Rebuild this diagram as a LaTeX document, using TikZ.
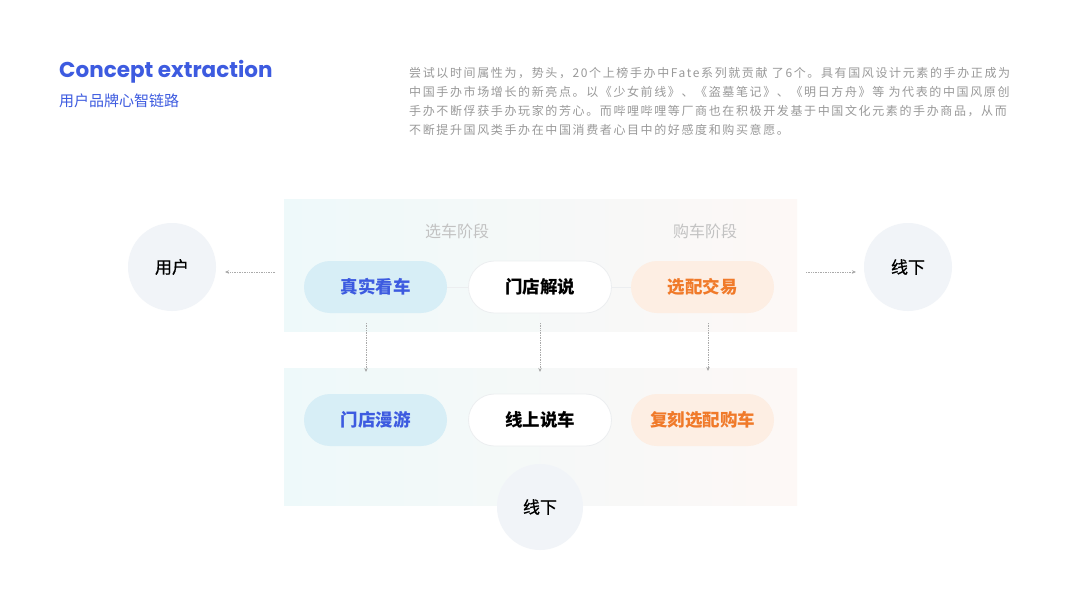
\documentclass[tikz,border=0pt]{standalone}
\usepackage{fontspec}
\setmainfont{Noto Sans CJK SC}
\newfontfamily\cjk{Noto Sans CJK SC}
\newfontfamily\cjkmed{Noto Sans CJK SC}[FakeBold=0.6]
\newfontfamily\cjkspaced{Noto Sans CJK SC}[LetterSpace=13.5]
\newfontfamily\poppins{Poppins}
\usetikzlibrary{arrows.meta}
\definecolor{titleblue}{HTML}{3D5BE0}
\definecolor{paragray}{HTML}{999999}
\definecolor{stagegray}{HTML}{C2C2C2}
\definecolor{bandL}{HTML}{EEF9FA}
\definecolor{bandR}{HTML}{FDF8F6}
\definecolor{bluepill}{HTML}{D7EEF6}
\definecolor{orangepill}{HTML}{FDEEE3}
\definecolor{orangetxt}{HTML}{F07A2A}
\definecolor{pillborder}{HTML}{ECEEF0}
\definecolor{circfill}{HTML}{F1F4F8}
\definecolor{arrowgray}{HTML}{AAAAAA}
\begin{document}
\begin{tikzpicture}[x=1pt,y=-1pt,
  pill/.style={rectangle, rounded corners=26pt, minimum width=143pt, minimum height=52pt, inner sep=0pt, font=\cjk\bfseries\fontsize{17.5}{19}\selectfont},
  bluep/.style={pill, fill=bluepill, text=titleblue},
  whitep/.style={pill, fill=white, draw=pillborder, line width=0.8pt, text=black},
  orangep/.style={pill, fill=orangepill, text=orangetxt},
  circ/.style={circle, fill=circfill, minimum size=88pt, inner sep=0pt, font=\cjkmed\fontsize{17}{19}\selectfont, text=black},
  stage/.style={font=\cjk\fontsize{16}{18}\selectfont, text=stagegray},
  darrow/.style={draw=arrowgray, densely dotted, line width=0.7pt, -{Stealth[length=4pt,width=3.5pt]}},
  link/.style={draw=pillborder, line width=1pt},
  band/.style={left color=bandL, right color=bandR, draw=none},
  paraline/.style={anchor=west, inner sep=0pt, font=\cjkspaced\fontsize{12}{14}\selectfont, text=paragray}
]
\useasboundingbox (0,0) rectangle (1080,608);
\fill[white] (0,0) rectangle (1080,608);

% title
\node[anchor=west, inner sep=0pt, text=titleblue, font=\poppins\bfseries\fontsize{21.5}{24}\selectfont] (title) at (59,72) {Concept extraction};
\node[anchor=west, inner sep=0pt, text=titleblue, font=\cjk\fontsize{15}{17}\selectfont] (subtitle) at (59,101) {用户品牌心智链路};

% paragraph
\node[paraline] (p1) at (409,73) {尝试以时间属性为，势头，20个上榜手办中Fate系列就贡献 了6个。具有国风设计元素的手办正成为};
\node[paraline] (p2) at (409,92) {中国手办市场增长的新亮点。以《少女前线》、《盗墓笔记》、《明日方舟》等 为代表的中国风原创};
\node[paraline] (p3) at (409,111) {手办不断俘获手办玩家的芳心。而哔哩哔哩等厂商也在积极开发基于中国文化元素的手办商品，从而};
\node[paraline] (p4) at (409,130) {不断提升国风类手办在中国消费者心目中的好感度和购买意愿。};

% bands
\shade[band] (284,199) rectangle (797,331);
\shade[band] (284,368) rectangle (797,505);

% stage labels
\node[stage] (s1) at (457,231) {选车阶段};
\node[stage] (s2) at (705,231) {购车阶段};

% top row
\node[bluep] (a1) at (375.5,287) {真实看车};
\node[whitep] (a2) at (540,287) {门店解说};
\node[orangep] (a3) at (702.5,287) {选配交易};
\draw[link] (a1) -- (a2);
\draw[link] (a2) -- (a3);

% bottom row
\node[bluep] (b1) at (375.5,420) {门店漫游};
\node[whitep] (b2) at (540,420) {线上说车};
\node[orangep] (b3) at (702.5,420) {复刻选配购车};

% circles
\node[circ] (user) at (172,267) {用户};
\node[circ] (off1) at (908,267) {线下};
\node[circ, minimum size=86pt] (off2) at (540,507) {线下};

% arrows
\coordinate (la) at (275,272);
\coordinate (lb) at (225,272);
\coordinate (ra) at (806,272);
\coordinate (rb) at (856,272);
\draw[darrow] (la) -- (lb);
\draw[darrow] (ra) -- (rb);
\coordinate (v1a) at (366,323); \coordinate (v1b) at (366,372);
\coordinate (v2a) at (540,323); \coordinate (v2b) at (540,372);
\coordinate (v3a) at (708,323); \coordinate (v3b) at (708,371);
\draw[darrow] (v1a) -- (v1b);
\draw[darrow] (v2a) -- (v2b);
\draw[darrow] (v3a) -- (v3b);
\end{tikzpicture}
\end{document}
